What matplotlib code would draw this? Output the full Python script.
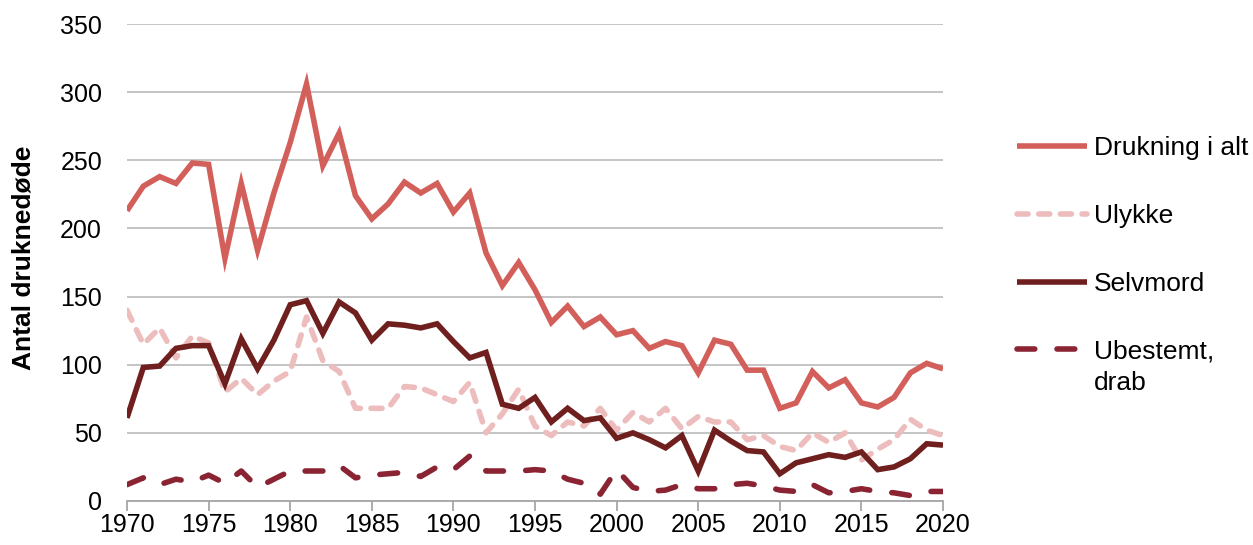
import matplotlib
matplotlib.use("Agg")
import matplotlib.pyplot as plt

years = list(range(1970, 2021))

drukning = [213, 231, 238, 233, 248, 247, 178, 233, 184, 226,
            263, 306, 246, 270, 224, 207, 218, 234, 226, 233,
            212, 226, 182, 158, 175, 155, 131, 143, 128, 135,
            122, 125, 112, 117, 114, 94, 118, 115, 96, 96,
            68, 72, 95, 83, 89, 72, 69, 76, 94, 101, 97]

ulykke = [140, 115, 127, 105, 121, 116, 80, 90, 78, 88,
          95, 135, 103, 95, 68, 68, 68, 84, 83, 78,
          73, 87, 50, 64, 82, 55, 48, 58, 55, 68,
          52, 65, 58, 68, 53, 62, 58, 58, 45, 48,
          40, 37, 50, 43, 50, 30, 38, 45, 60, 52, 48]

selvmord = [61, 98, 99, 112, 114, 114, 86, 119, 97, 118,
            144, 147, 123, 146, 138, 118, 130, 129, 127, 130,
            117, 105, 109, 71, 68, 76, 58, 68, 59, 61,
            46, 50, 45, 39, 48, 22, 52, 44, 37, 36,
            20, 28, 31, 34, 32, 36, 23, 25, 31, 42, 41]

ubestemt = [12, 17, 12, 16, 14, 19, 13, 22, 10, 16,
            22, 22, 22, 26, 17, 19, 20, 21, 18, 25,
            23, 33, 22, 22, 22, 23, 22, 16, 13, 5,
            23, 10, 7, 8, 12, 9, 9, 12, 13, 11,
            8, 7, 12, 6, 7, 9, 7, 6, 4, 7, 7]

labels = ["Drukning i alt", "Ulykke", "Selvmord", "Ubestemt,"]
label_extra = "drab"
ylabel = "Antal druknedøde"
xticks = list(range(1970, 2021, 5))
yticks = list(range(0, 351, 50))

plt.rcParams['font.family'] = ['Liberation Sans', 'DejaVu Sans']
FS = 19
TFS = 18

fig = plt.figure(figsize=(12.53, 5.45), dpi=100)
ax = fig.add_axes([127/1253, 1 - 501/545, (943-127)/1253, (501-24)/545])

lw = 4.0
c1, c2, c3, c4 = "#D35F5B", "#EDBDBD", "#6E1F1E", "#8A2433"
h1, = ax.plot(years, drukning, color=c1, lw=lw, solid_joinstyle='miter', solid_capstyle='butt', zorder=4)
h2, = ax.plot(years, ulykke, color=c2, lw=lw, linestyle=(0, (2.0, 1.9)), dash_capstyle='round', zorder=2)
h3, = ax.plot(years, selvmord, color=c3, lw=lw, solid_joinstyle='miter', solid_capstyle='butt', zorder=3)
h4, = ax.plot(years, ubestemt, color=c4, lw=lw, linestyle=(0, (3.2, 4.0)), dash_capstyle='round', zorder=3)

ax.set_xlim(1970, 2020)
ax.set_ylim(0, 350)
ax.set_xticks(xticks)
ax.set_yticks(yticks)
ax.grid(axis='y', color='#BFBFBF', lw=1.3)
ax.set_axisbelow(True)
for s in ['top', 'right', 'left']:
    ax.spines[s].set_visible(False)
ax.spines['bottom'].set_color('#A6A6A6')
ax.spines['bottom'].set_linewidth(1.3)
ax.tick_params(axis='x', direction='out', length=7, width=1.3, color='#A6A6A6', labelsize=TFS, pad=2)
ax.tick_params(axis='y', length=0, labelsize=TFS, pad=18)
ax.set_ylabel(ylabel, fontsize=FS, fontweight='bold')
ax.yaxis.set_label_coords(-0.112, 0.51)

leg = fig.legend([h1, h2, h3, h4], labels, loc='center left',
                 bbox_to_anchor=(1017/1253, 1 - 250/545), frameon=False,
                 fontsize=FS, handlelength=2.65, handletextpad=0.25,
                 labelspacing=1.66, borderaxespad=0, borderpad=0)

fig.canvas.draw()
t = leg.get_texts()[-1]
bb = t.get_window_extent(renderer=fig.canvas.get_renderer())
inv = fig.transFigure.inverted()
x0, y0 = inv.transform((bb.x0, bb.y0))
fig.text(x0, y0 - 31/545, label_extra, fontsize=FS, ha='left', va='bottom')

fig.savefig("out.png", dpi=100)
